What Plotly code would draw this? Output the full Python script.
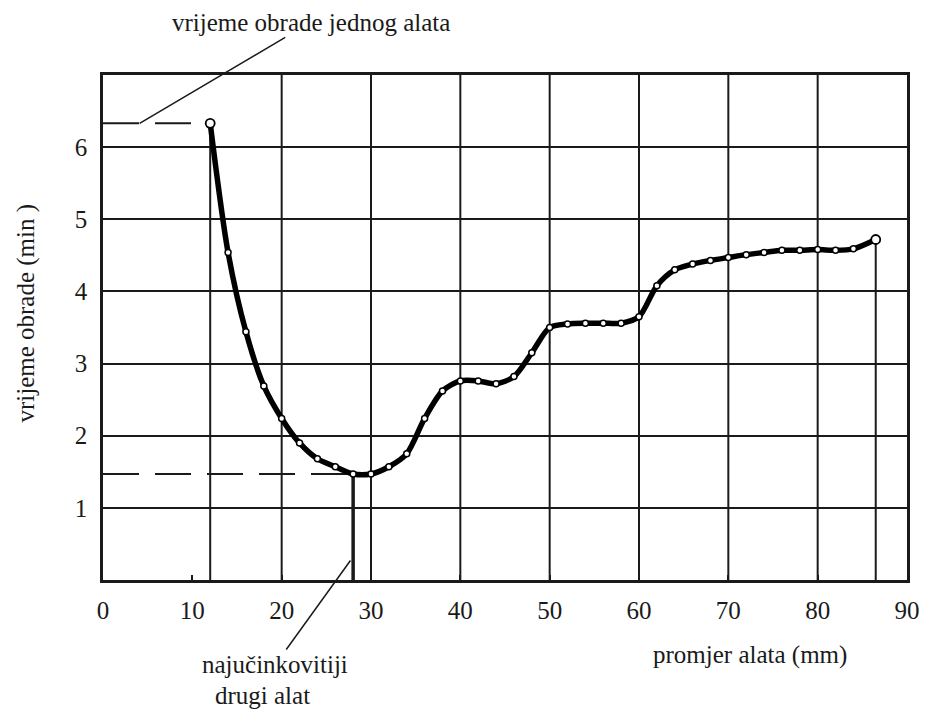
import plotly.graph_objects as go

# ---- data ----
DIAM = [12, 14, 16, 18, 20, 22, 24, 26, 28, 30, 32, 34, 36, 38, 40, 42, 44, 46, 48,
        50, 52, 54, 56, 58, 60, 62, 64, 66, 68, 70, 72, 74, 76, 78, 80, 82, 84, 86.5]
TIME = [6.33, 4.54, 3.44, 2.69, 2.24, 1.90, 1.68, 1.57, 1.47, 1.47, 1.57, 1.75, 2.24,
        2.62, 2.76, 2.76, 2.72, 2.82, 3.15, 3.50, 3.55, 3.56, 3.56, 3.56, 3.65, 4.08,
        4.30, 4.38, 4.43, 4.47, 4.51, 4.54, 4.57, 4.57, 4.58, 4.57, 4.59, 4.72]
X_TICKS = [0, 10, 20, 30, 40, 50, 60, 70, 80, 90]
Y_TICKS = [1, 2, 3, 4, 5, 6]
GRID_X = [20, 30, 40, 50, 60, 70, 80]
FIRST_IDX = 0          # single-tool machining time
BEST_IDX = 8           # most efficient second tool (28 mm)
LAST_IDX = len(DIAM) - 1

INK = "#1a1a1a"
FONT = "Liberation Serif"
FS = 25

fig = go.Figure()

# vertical grid lines (no line at 10)
for gx in GRID_X:
    fig.add_vline(x=gx, line=dict(color=INK, width=2), layer="below")

# drop lines from special points
for idx, w in [(FIRST_IDX, 2), (BEST_IDX, 3.5), (LAST_IDX, 2)]:
    fig.add_trace(go.Scatter(x=[DIAM[idx], DIAM[idx]], y=[0, TIME[idx]], mode="lines",
                             line=dict(color=INK, width=w), hoverinfo="skip", showlegend=False))

# dashed reference lines
for idx in [FIRST_IDX, BEST_IDX]:
    fig.add_trace(go.Scatter(x=[0, DIAM[idx]], y=[TIME[idx], TIME[idx]], mode="lines",
                             line=dict(color=INK, width=2, dash="36px,16px"),
                             hoverinfo="skip", showlegend=False))

# main curve
fig.add_trace(go.Scatter(x=DIAM, y=TIME, mode="lines",
                         line=dict(color="black", width=5.5, shape="spline", smoothing=0.8),
                         showlegend=False))
# small markers
fig.add_trace(go.Scatter(x=DIAM[1:-1], y=TIME[1:-1], mode="markers",
                         marker=dict(size=6, color="white", line=dict(color="black", width=1.5)),
                         showlegend=False))
# end markers
fig.add_trace(go.Scatter(x=[DIAM[FIRST_IDX], DIAM[LAST_IDX]], y=[TIME[FIRST_IDX], TIME[LAST_IDX]],
                         mode="markers",
                         marker=dict(size=9, color="white", line=dict(color="black", width=1.8)),
                         showlegend=False))


def px_x(p):
    return (p - 103) / 810


def px_y(p):
    return (580 - p) / 505


fig.update_layout(
    # page body has an 8px margin, so the figure is sized to fit inside the window
    width=924, height=704,
    margin=dict(l=95, r=19, t=67, b=132),
    paper_bgcolor="white", plot_bgcolor="white",
    font=dict(family=FONT, size=FS, color=INK),
    xaxis=dict(range=[0, 90], tickvals=X_TICKS, ticktext=[str(v) for v in X_TICKS],
               showgrid=False, zeroline=False, showline=True, mirror=True,
               linecolor=INK, linewidth=2.5, ticks="inside", ticklen=5, tickwidth=2,
               tickcolor=INK, ticklabelstandoff=6,
               tickfont=dict(family=FONT, size=FS, color=INK)),
    yaxis=dict(range=[0, 7], tickvals=Y_TICKS, ticktext=[str(v) for v in Y_TICKS],
               showgrid=True, gridcolor=INK, gridwidth=2, zeroline=False,
               showline=True, mirror=True, linecolor=INK, linewidth=2.5,
               ticks="", ticklabelstandoff=8,
               tickfont=dict(family=FONT, size=FS, color=INK)),
    annotations=[
        dict(x=4.1, y=TIME[FIRST_IDX], xref="x", yref="y",
             text="vrijeme obrade jednog alata", showarrow=True, arrowhead=0,
             arrowwidth=1.5, arrowcolor=INK, ax=171, ay=-101, standoff=0,
             font=dict(family=FONT, size=FS, color=INK)),
        dict(x=27.7, y=0.27, xref="x", yref="y",
             text="najučinkovitiji", showarrow=True, arrowhead=0,
             arrowwidth=1.5, arrowcolor=INK, ax=-75, ay=104, standoff=0,
             font=dict(family=FONT, size=FS, color=INK)),
        dict(x=px_x(264), y=px_y(695), xref="paper", yref="paper",
             text="drugi alat", showarrow=False, xanchor="center", yanchor="middle",
             font=dict(family=FONT, size=FS, color=INK)),
        dict(x=px_x(755), y=px_y(655), xref="paper", yref="paper",
             text="promjer alata (mm)", showarrow=False, xanchor="center", yanchor="middle",
             font=dict(family=FONT, size=FS, color=INK)),
        dict(x=px_x(25), y=px_y(313), xref="paper", yref="paper",
             text="vrijeme obrade (min )", showarrow=False, textangle=-90,
             xanchor="center", yanchor="middle",
             font=dict(family=FONT, size=FS, color=INK)),
    ],
)

fig.write_html("out.html")
